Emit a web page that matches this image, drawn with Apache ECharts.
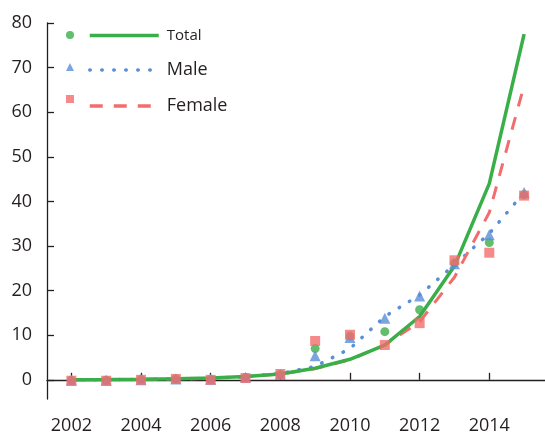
<!DOCTYPE html>
<html><head><meta charset="utf-8">
<script src="https://cdn.jsdelivr.net/npm/echarts@6/dist/echarts.min.js"></script>
<style>html,body{margin:0;padding:0;background:#fff}#c{width:545px;height:433px}</style>
</head><body><div id="c"></div>
<script>
const years = [2002,2003,2004,2005,2006,2007,2008,2009,2010,2011,2012,2013,2014,2015];
const xTicks = [2002,2004,2006,2008,2010,2012,2014];
const yTicks = [0,10,20,30,40,50,60,70,80];
// observed points
const totalObs  = [-0.1,-0.1,0.1,0.2,0.1,0.5,1.2,7.0,9.8,10.8,15.7,26.2,30.8,41.5];
const maleObs   = [-0.1,-0.1,0.0,0.2,0.1,0.6,1.2,5.4,9.5,13.8,18.8,26.0,32.5,42.0];
const femaleObs = [-0.2,-0.2,0.0,0.2,0.0,0.4,1.3,8.7,10.1,7.8,12.7,26.8,28.5,41.3];
// fitted curves
const totalFit  = [0.04,0.07,0.13,0.23,0.41,0.73,1.3,2.6,4.6,7.8,14.2,25.5,44.0,77.5];
const maleFit   = [0.0,0.05,0.1,0.2,0.35,0.7,1.4,3.0,7.0,14.2,19.0,25.8,32.8,42.0];
const femaleFit = [0.03,0.06,0.1,0.2,0.35,0.7,1.3,2.5,4.5,7.8,13.0,23.0,37.5,66.0];

const GREEN = '#3aae49', BLUE = '#5a8fd8', RED = '#f26d6d';
const FONT = 'Open Sans';
const pairs = a => years.map((y,i)=>[y,a[i]]);

const chart = echarts.init(document.getElementById('c'), null, {renderer:'canvas'});
chart.setOption({
  animation:false,
  grid:{left:47, right:0, top:23, bottom:34, containLabel:false, outerBoundsMode:'none'},
  textStyle:{fontFamily:FONT},
  legend:[
    {data:[{name:'Total ',icon:'circle'},{name:'Male ',icon:'triangle'},{name:'Female ',icon:'rect'}],
     orient:'vertical', left:61, top:26, itemWidth:8, itemHeight:8, itemGap:24,
     formatter:()=>'', textStyle:{fontSize:8, lineHeight:8}, selectedMode:false},
    {data:[{name:'Total',textStyle:{fontSize:15}},{name:'Male',textStyle:{fontSize:18}},{name:'Female',textStyle:{fontSize:18}}],
     orient:'vertical', left:83, top:23, itemWidth:69, itemHeight:14, itemGap:18,
     itemStyle:{opacity:0}, lineStyle:{width:3.5},
     textStyle:{fontFamily:FONT, color:'#231f20', lineHeight:14, padding:[0,0,0,3]}, selectedMode:false}
  ],
  xAxis:{type:'value', min:2001.3, max:2015.6,
    axisLine:{show:true, lineStyle:{color:'#231f20', width:1.3}},
    axisTick:{show:true, inside:true, length:7, customValues:xTicks, lineStyle:{color:'#231f20', width:1.3}},
    axisLabel:{customValues:xTicks, fontSize:18, color:'#231f20', margin:18, fontFamily:FONT, formatter:v=>String(v)},
    splitLine:{show:false}},
  yAxis:{type:'value', min:-4.3, max:80,
    axisLine:{show:true, lineStyle:{color:'#231f20', width:1.3}},
    axisTick:{show:true, inside:true, length:7, customValues:yTicks, lineStyle:{color:'#231f20', width:1.3}},
    axisLabel:{customValues:yTicks, fontSize:18, color:'#231f20', margin:15, fontFamily:FONT},
    splitLine:{show:false}},
  series:[
    {name:'Male', type:'line', data:pairs(maleFit), symbol:'none', z:2,
     lineStyle:{color:BLUE, width:3.5, type:[0.5,11.5], cap:'round'}, itemStyle:{color:BLUE}},
    {name:'Female', type:'line', data:pairs(femaleFit), symbol:'none', z:2,
     lineStyle:{color:RED, width:3, type:[13,11]}, itemStyle:{color:RED}},
    {name:'Total', type:'line', data:pairs(totalFit), symbol:'none', z:3,
     lineStyle:{color:GREEN, width:3.5}, itemStyle:{color:GREEN}},
    {name:'Total ', type:'scatter', data:pairs(totalObs), symbol:'circle', symbolSize:9, z:4, itemStyle:{color:GREEN}},
    {name:'Male ', type:'scatter', data:pairs(maleObs), symbol:'triangle', symbolSize:11, z:5, itemStyle:{color:BLUE}},
    {name:'Female ', type:'scatter', data:pairs(femaleObs), symbol:'rect', symbolSize:10, z:6, itemStyle:{color:RED}}
  ]
});
</script></body></html>
